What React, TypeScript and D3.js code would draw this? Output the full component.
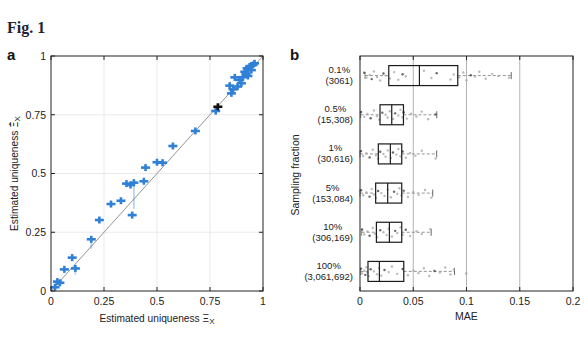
import React from "react";
import * as d3 from "d3";

// ---------- Panel a data ----------
const uniqX = [0.019, 0.03, 0.042, 0.063, 0.1, 0.115, 0.19, 0.228, 0.283, 0.33, 0.356, 0.375, 0.391, 0.383, 0.438, 0.446, 0.5, 0.526, 0.575, 0.681, 0.777, 0.843, 0.851, 0.859, 0.867, 0.89, 0.898, 0.914, 0.925, 0.937, 0.953, 0.96, 0.929, 0.945, 0.905, 0.88, 0.92];
const uniqY = [0.016, 0.04, 0.035, 0.092, 0.142, 0.096, 0.22, 0.302, 0.37, 0.384, 0.457, 0.451, 0.461, 0.323, 0.467, 0.525, 0.548, 0.546, 0.617, 0.681, 0.766, 0.874, 0.841, 0.858, 0.909, 0.898, 0.884, 0.933, 0.948, 0.955, 0.962, 0.969, 0.915, 0.94, 0.91, 0.87, 0.925];
const uniqYLow = [0, 0, 0, 0, 0, 0.07, 0.18, 0, 0, 0, 0, 0, 0.35, 0, 0, 0, 0, 0, 0, 0, 0.75, 0, 0, 0, 0, 0, 0, 0, 0, 0, 0, 0, 0, 0, 0, 0, 0];
const highlightX = [0.787];
const highlightY = [0.784];
const ticksA = [0, 0.25, 0.5, 0.75, 1];

// ---------- Panel b data ----------
const fractions = ["0.1%", "0.5%", "1%", "5%", "10%", "100%"];
const sampleSizes = ["(3061)", "(15,308)", "(30,616)", "(153,084)", "(306,169)", "(3,061,692)"];
const whiskerLow = [0.0047, 0.0006, 0.0, 0.0, 0.0016, 0.0006];
const q1 = [0.027, 0.0188, 0.0172, 0.0147, 0.0154, 0.0075];
const median = [0.0558, 0.0298, 0.0285, 0.026, 0.0276, 0.0182];
const q3 = [0.0918, 0.0408, 0.0392, 0.0392, 0.0392, 0.0411];
const whiskerHigh = [0.142, 0.0721, 0.072, 0.0683, 0.0668, 0.0887];
const outliers = [[], [], [], [], [], [0.0997]];
const maePoints = [
  [0.004, 0.006, 0.009, 0.011, 0.013, 0.016, 0.019, 0.022, 0.024, 0.028, 0.032, 0.036, 0.04, 0.043, 0.06, 0.067, 0.072, 0.085, 0.088, 0.093, 0.097, 0.1, 0.104, 0.108, 0.112, 0.118, 0.124, 0.13, 0.14],
  [0.001, 0.004, 0.007, 0.01, 0.013, 0.016, 0.018, 0.021, 0.024, 0.026, 0.028, 0.031, 0.033, 0.036, 0.038, 0.04, 0.041, 0.044, 0.048, 0.053, 0.058, 0.064, 0.071],
  [0.001, 0.003, 0.006, 0.009, 0.012, 0.015, 0.017, 0.019, 0.022, 0.024, 0.026, 0.029, 0.031, 0.034, 0.036, 0.038, 0.04, 0.043, 0.047, 0.052, 0.058, 0.071],
  [0.001, 0.003, 0.006, 0.009, 0.011, 0.013, 0.015, 0.017, 0.02, 0.023, 0.026, 0.029, 0.032, 0.035, 0.037, 0.039, 0.041, 0.045, 0.05, 0.055, 0.061, 0.067],
  [0.002, 0.004, 0.007, 0.009, 0.012, 0.014, 0.016, 0.019, 0.022, 0.025, 0.027, 0.03, 0.033, 0.035, 0.038, 0.04, 0.043, 0.047, 0.053, 0.058, 0.066],
  [0.001, 0.002, 0.004, 0.005, 0.006, 0.007, 0.008, 0.01, 0.013, 0.016, 0.018, 0.02, 0.023, 0.027, 0.03, 0.035, 0.04, 0.045, 0.05, 0.055, 0.06, 0.065, 0.07, 0.075, 0.08, 0.085, 0.088],
];
const jitter = [-0.4, 0.3, -0.1, 0.5, -0.6, 0.2, 0.7, -0.3, 0.0, 0.4, -0.5, 0.6, -0.2, 0.1, -0.7, 0.35, -0.35, 0.55, -0.15, 0.25, -0.45, 0.65, -0.05, 0.15, -0.55, 0.45, -0.25, 0.05, 0.3];
const shade = [1, 0, 0, 1, 0, 0, 0, 1, 0, 0, 0, 0, 1, 0, 0, 0, 1, 0, 0, 0, 0, 0, 1, 0, 0, 0, 0, 0, 0];
const ticksB = [0, 0.05, 0.1, 0.15, 0.2];

const FONT = "'Liberation Sans', Arial, Helvetica, sans-serif";

const charW: Record<string, number> = { ",": 0.278, ".": 0.278, "(": 0.333, ")": 0.333, "%": 0.889 };
const textWidth = (s: string, size: number) =>
  s.split("").reduce((a, c) => a + (charW[c] ?? 0.556), 0) * size;

export default function App() {
  // Panel a scales
  const xa = d3.scaleLinear().domain([0, 1]).range([51, 263]);
  const ya = d3.scaleLinear().domain([0, 1]).range([291, 56]);
  // Panel b scales
  const xb = d3.scaleLinear().domain([0, 0.2]).range([360, 573]);
  const yb = d3.scaleBand<string>().domain(fractions).range([56, 291]).padding(0);
  const half = 10;
  const blue = "#2f80d6";

  const plus = (cx: number, cy: number, color: string, key: string) => (
    <g key={key} stroke={color} strokeWidth={2.6} strokeLinecap="butt">
      <line x1={cx - 4.5} x2={cx + 4.5} y1={cy} y2={cy} />
      <line x1={cx} x2={cx} y1={cy - 3.5} y2={cy + 3.5} />
    </g>
  );

  return (
    <svg width={588} height={341} style={{ position: "absolute", left: 0, top: 0, background: "#fff" }} fontFamily={FONT}>
      <text x={7} y={33} fontFamily="'Liberation Serif', 'DejaVu Serif', serif" fontWeight="bold" fontSize={16} fill="#1f2437">Fig. 1</text>
      <text x={7} y={60} fontWeight="bold" fontSize={15} fill="#111">a</text>
      <text x={290} y={60} fontWeight="bold" fontSize={15} fill="#111">b</text>

      {/* ---------- Panel a ---------- */}
      {ticksA.slice(1, -1).map((t) => (
        <g key={"ga" + t} stroke="#e4e4e4" strokeWidth={0.8}>
          <line x1={xa(t)} x2={xa(t)} y1={ya(0)} y2={ya(1)} />
          <line x1={xa(0)} x2={xa(1)} y1={ya(t)} y2={ya(t)} />
        </g>
      ))}
      <line x1={xa(0)} y1={ya(0)} x2={xa(1)} y2={ya(1)} stroke="#888" strokeWidth={0.9} />
      {uniqX.map((x, i) =>
        uniqYLow[i] > 0 ? (
          <line key={"ea" + i} x1={xa(x)} x2={xa(x)} y1={ya(uniqY[i])} y2={ya(uniqYLow[i])} stroke={blue} strokeOpacity={0.35} strokeWidth={1.8} />
        ) : null
      )}
      {uniqX.map((x, i) => plus(xa(x), ya(uniqY[i]), blue, "pa" + i))}
      {highlightX.map((x, i) => plus(xa(x), ya(highlightY[i]), "#111", "ha" + i))}
      <rect x={xa(0)} y={ya(1)} width={xa(1) - xa(0)} height={ya(0) - ya(1)} fill="none" stroke="#222" strokeWidth={1} />
      {ticksA.map((t) => (
        <g key={"ta" + t} stroke="#222" strokeWidth={1}>
          <line x1={xa(t)} x2={xa(t)} y1={ya(0)} y2={ya(0) - 4} />
          <line x1={xa(t)} x2={xa(t)} y1={ya(1)} y2={ya(1) + 4} />
          <line x1={xa(0)} x2={xa(0) + 4} y1={ya(t)} y2={ya(t)} />
          <line x1={xa(1)} x2={xa(1) - 4} y1={ya(t)} y2={ya(t)} />
        </g>
      ))}
      {ticksA.map((t) => (
        <text key={"xla" + t} x={xa(t)} y={305} textAnchor="middle" fontSize={10.5} fill="#222">{String(t)}</text>
      ))}
      {ticksA.map((t) => (
        <text key={"yla" + t} x={46} y={ya(t) + 3.8} textAnchor="end" fontSize={10.5} fill="#222">{String(t)}</text>
      ))}
      <text x={157} y={322} textAnchor="middle" fontSize={10.2} fill="#222">
        Estimated uniqueness Ξ<tspan fontSize={8} dy={2}>X</tspan>
      </text>
      <text transform={`translate(18,${(ya(0) + ya(1)) / 2}) rotate(-90)`} textAnchor="middle" fontSize={10.2} fill="#222">
        Estimated uniqueness <tspan fontFamily="'DejaVu Sans', sans-serif">{"\u039E\u0302"}</tspan><tspan fontSize={8} dy={2}>X</tspan>
      </text>

      {/* ---------- Panel b ---------- */}
      {ticksB.slice(1, -1).map((t) => (
        <line key={"gb" + t} x1={xb(t)} x2={xb(t)} y1={56} y2={291} stroke="#b4b4b4" strokeWidth={1} />
      ))}
      {fractions.map((f, i) => {
        const cy = (yb(f) as number) + yb.bandwidth() / 2;
        return (
          <g key={"row" + i}>
            <line x1={xb(whiskerLow[i])} x2={xb(q1[i])} y1={cy} y2={cy} stroke="#8a8a8a" strokeWidth={0.9} strokeDasharray="3,2" />
            <line x1={xb(q3[i])} x2={xb(whiskerHigh[i])} y1={cy} y2={cy} stroke="#8a8a8a" strokeWidth={0.9} strokeDasharray="3,2" />
            <line x1={xb(whiskerLow[i])} x2={xb(whiskerLow[i])} y1={cy - 3.5} y2={cy + 3.5} stroke="#777" strokeWidth={0.9} />
            <line x1={xb(whiskerHigh[i])} x2={xb(whiskerHigh[i])} y1={cy - 3.5} y2={cy + 3.5} stroke="#555" strokeWidth={0.9} />
            {maePoints[i].map((v, j) => (
              <circle key={"p" + j} cx={xb(v)} cy={cy + jitter[j % jitter.length] * 7} r={1.2}
                fill={shade[j % shade.length] ? "#444" : "#aaa"} fillOpacity={0.8} stroke="none" />
            ))}
            {outliers[i].map((v, j) => (
              <circle key={"o" + j} cx={xb(v)} cy={cy + 2} r={1.2} fill="#aaa" />
            ))}
            <rect x={xb(q1[i])} y={cy - half} width={xb(q3[i]) - xb(q1[i])} height={2 * half} fill="none" stroke="#1a1a1a" strokeWidth={1.2} />
            <line x1={xb(median[i])} x2={xb(median[i])} y1={cy - half} y2={cy + half} stroke="#1a1a1a" strokeWidth={1.2} />
            {(() => {
              const w = Math.max(textWidth(f, 9.5), textWidth(sampleSizes[i], 9.5));
              const cx = 353 - w / 2;
              return (
                <text textAnchor="middle" fontSize={9.5} fill="#222">
                  <tspan x={cx} y={cy - 2.5}>{f}</tspan>
                  <tspan x={cx} y={cy + 8.5}>{sampleSizes[i]}</tspan>
                </text>
              );
            })()}
          </g>
        );
      })}
      <rect x={xb(0)} y={56} width={xb(0.2) - xb(0)} height={235} fill="none" stroke="#222" strokeWidth={1} />
      {ticksB.map((t) => (
        <g key={"tb" + t} stroke="#222" strokeWidth={1}>
          <line x1={xb(t)} x2={xb(t)} y1={291} y2={287} />
          <line x1={xb(t)} x2={xb(t)} y1={56} y2={60} />
        </g>
      ))}
      {ticksB.map((t) => (
        <text key={"xlb" + t} x={xb(t)} y={305} textAnchor="middle" fontSize={10.5} fill="#222">{String(t)}</text>
      ))}
      <text x={xb(0.1)} y={320} textAnchor="middle" fontSize={10.5} fill="#222">MAE</text>
      <text transform={`translate(299,175) rotate(-90)`} textAnchor="middle" fontSize={10.5} fill="#222">Sampling fraction</text>
    </svg>
  );
}
